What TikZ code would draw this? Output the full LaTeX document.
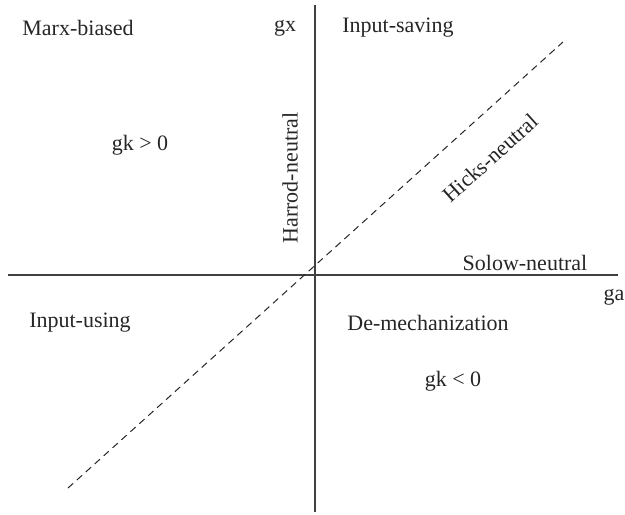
\documentclass[tikz,border=0pt]{standalone}
\usepackage{fontspec}
\setmainfont{Liberation Serif}
\begin{document}
\begin{tikzpicture}[x=1pt,y=-1pt,
  lbl/.style={font=\fontsize{22}{26}\selectfont, inner sep=0pt, text=black!85},
  axisline/.style={draw=black!75, line width=1.3pt},
  diag/.style={draw=black!85, line width=1pt, dash pattern=on 7pt off 5pt}]
\useasboundingbox (0,0) rectangle (625,515);
\coordinate (xl) at (8,275);
\coordinate (xr) at (618,275);
\coordinate (yt) at (315,5);
\coordinate (yb) at (315,512);
\coordinate (dl) at (68,488);
\coordinate (dr) at (563,42);
\draw[axisline] (xl) -- (xr);
\draw[axisline] (yt) -- (yb);
\draw[diag] (dl) -- (dr);
\node[lbl] (marx) at (78,28) {Marx-biased};
\node[lbl] (gx) at (285,28) {gx};
\node[lbl] (isave) at (398,28) {Input-saving};
\node[lbl] (gkp) at (140,145) {gk > 0};
\node[lbl, rotate=90] (harrod) at (290,178) {Harrod-neutral};
\node[lbl, rotate=42] (hicks) at (490,158) {Hicks-neutral};
\node[lbl] (solow) at (525,263) {Solow-neutral};
\node[lbl] (ga) at (614,297) {ga};
\node[lbl] (iuse) at (80,323) {Input-using};
\node[lbl] (demech) at (428,323) {De-mechanization};
\node[lbl] (gkn) at (453,381) {gk < 0};
\end{tikzpicture}
\end{document}
